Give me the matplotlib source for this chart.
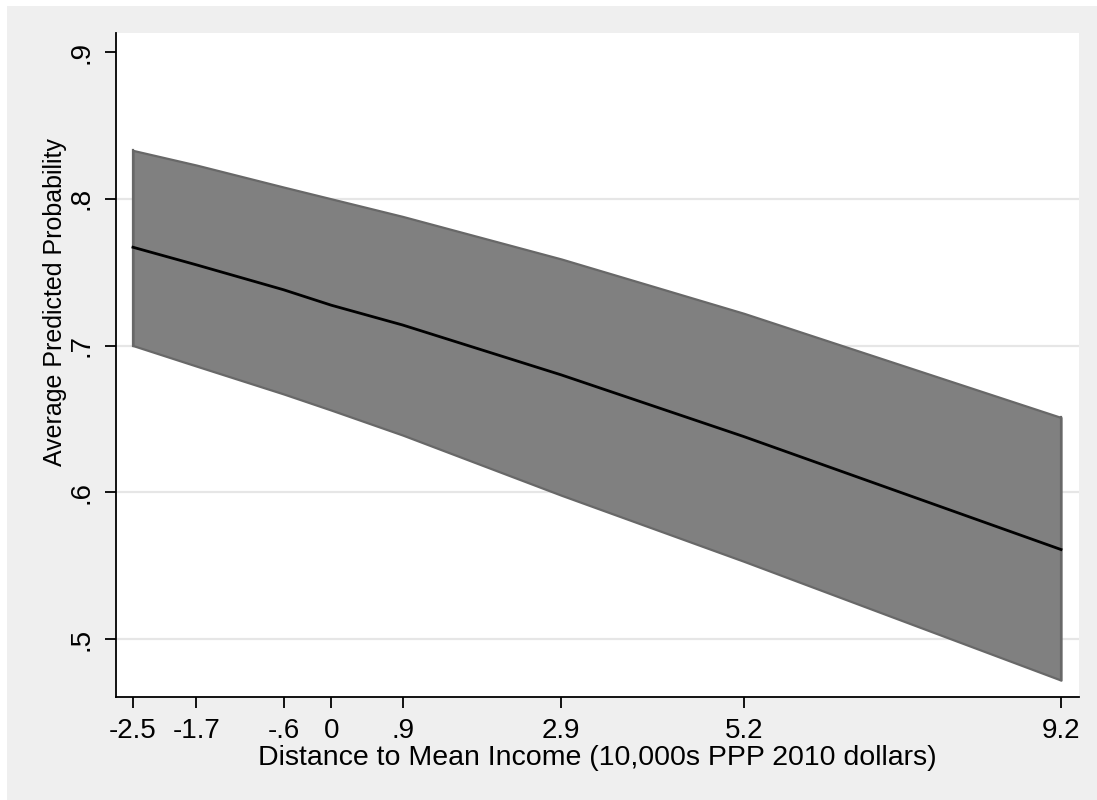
import matplotlib
matplotlib.use('Agg')
import matplotlib.pyplot as plt
from matplotlib.patches import Rectangle

plt.rcParams['font.family'] = ['Liberation Sans', 'DejaVu Sans']

# margins
income_x = [-2.5, -1.7, -0.6, 0, 0.9, 2.9, 5.2, 9.2]
prob_mean = [0.767, 0.755, 0.738, 0.7275, 0.714, 0.680, 0.638, 0.561]
prob_upper = [0.833, 0.823, 0.808, 0.800, 0.788, 0.759, 0.722, 0.651]
prob_lower = [0.700, 0.686, 0.667, 0.656, 0.639, 0.598, 0.553, 0.472]

x_ticks = [-2.5, -1.7, -0.6, 0, 0.9, 2.9, 5.2, 9.2]
x_tick_labels = ['-2.5', '-1.7', '-.6', '0', '.9', '2.9', '5.2', '9.2']
y_ticks = [0.5, 0.6, 0.7, 0.8, 0.9]
y_tick_labels = ['.5', '.6', '.7', '.8', '.9']

W, H = 1097, 800
fig = plt.figure(figsize=(W / 100, H / 100), dpi=100, facecolor='white')
fig.patches.append(Rectangle((7 / W, -0.01), 1, 1.01 - 6 / H, transform=fig.transFigure,
                             facecolor='#efefef', edgecolor='none', zorder=-10))

ax = fig.add_axes([116 / W, 1 - 697 / H, (1079 - 116) / W, (697 - 33) / H])
ax.set_facecolor('white')

# grid lines (Stata style, light gray, none at the top tick)
for yv in y_ticks[:-1]:
    ax.axhline(yv, color='#e6e6e6', linewidth=1.6, zorder=0)

ax.fill_between(income_x, prob_lower, prob_upper, facecolor='#808080',
                edgecolor='#686868', linewidth=1.6, zorder=2)
ax.plot([income_x[0], income_x[0]], [prob_lower[0], prob_upper[0]],
        color='#686868', linewidth=1.6, zorder=2)
ax.plot([income_x[-1], income_x[-1]], [prob_lower[-1], prob_upper[-1]],
        color='#686868', linewidth=1.6, zorder=2)
ax.plot(income_x, prob_mean, color='black', linewidth=2.0, zorder=3)

ax.set_xlim(-2.714, 9.427)
ax.set_ylim(0.4605, 0.913)

ax.set_xticks(x_ticks)
ax.set_xticklabels(x_tick_labels)
ax.set_yticks(y_ticks)
ax.set_yticklabels(y_tick_labels, rotation=90, va='center')

for side in ['top', 'right']:
    ax.spines[side].set_visible(False)
for side in ['left', 'bottom']:
    ax.spines[side].set_linewidth(1.3)
    ax.spines[side].set_color('black')

ax.tick_params(axis='both', direction='out', length=8, width=1.3,
               labelsize=20, color='black', labelcolor='black')
ax.tick_params(axis='x', pad=7)
ax.tick_params(axis='y', pad=7.5)

ax.set_xlabel('Distance to Mean Income (10,000s PPP 2010 dollars)', fontsize=20.5)
ax.set_ylabel('Average Predicted Probability', fontsize=18)
ax.xaxis.set_label_coords(0.5, -0.073)
ax.yaxis.set_label_coords(-0.051, 0.595)

fig.savefig('out.png', dpi=100, facecolor='white')
